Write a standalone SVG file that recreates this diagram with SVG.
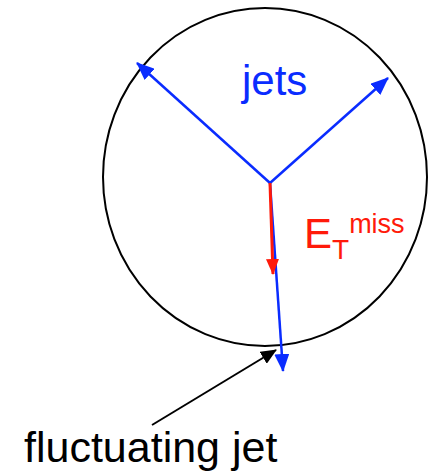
<svg xmlns="http://www.w3.org/2000/svg" width="430" height="471" viewBox="0 0 430 471">
<defs>
<style>
.t{font-family:"Liberation Sans",Arial,sans-serif}
</style>
<marker id="ab" viewBox="0 0 18 15" refX="17" refY="7.5" markerWidth="18" markerHeight="15" orient="auto" markerUnits="userSpaceOnUse"><path d="M0,0 L18,7.5 L0,15 z" fill="#0a2cff"/></marker>
<marker id="ar" viewBox="0 0 16 13" refX="15" refY="6.5" markerWidth="16" markerHeight="13" orient="auto" markerUnits="userSpaceOnUse"><path d="M0,0 L16,6.5 L0,13 z" fill="#ff1a0a"/></marker>
<marker id="ak" viewBox="0 0 16 14" refX="15" refY="7" markerWidth="16" markerHeight="14" orient="auto" markerUnits="userSpaceOnUse"><path d="M0,0 L16,7 L0,14 z" fill="#000"/></marker>
</defs>
<g id="detector"><ellipse cx="265" cy="177" rx="162" ry="169" fill="none" stroke="#000" stroke-width="2"/></g>
<g id="connectors">
<line x1="270" y1="183" x2="137" y2="63" stroke="#0a2cff" stroke-width="2.5" marker-end="url(#ab)"/>
<line x1="270" y1="183" x2="388" y2="78" stroke="#0a2cff" stroke-width="2.5" marker-end="url(#ab)"/>
<line x1="270" y1="183" x2="283" y2="371" stroke="#0a2cff" stroke-width="2.5" marker-end="url(#ab)"/>
<line x1="270" y1="183" x2="273" y2="274" stroke="#ff1a0a" stroke-width="3" marker-end="url(#ar)"/>
<line x1="152" y1="425" x2="276" y2="350" stroke="#000" stroke-width="2" marker-end="url(#ak)"/>
</g>
<g id="label-jets"><text class="t" x="242" y="95" font-size="42" fill="#0a2cff">jets</text></g>
<g id="label-met"><text class="t" x="304" y="248" font-size="42" fill="#ff1a0a">E<tspan font-size="28" dy="11">T</tspan><tspan font-size="27" dy="-26">miss</tspan></text></g>
<g id="label-fluct"><text class="t" x="24" y="462" font-size="43" fill="#000">fluctuating jet</text></g>
</svg>
